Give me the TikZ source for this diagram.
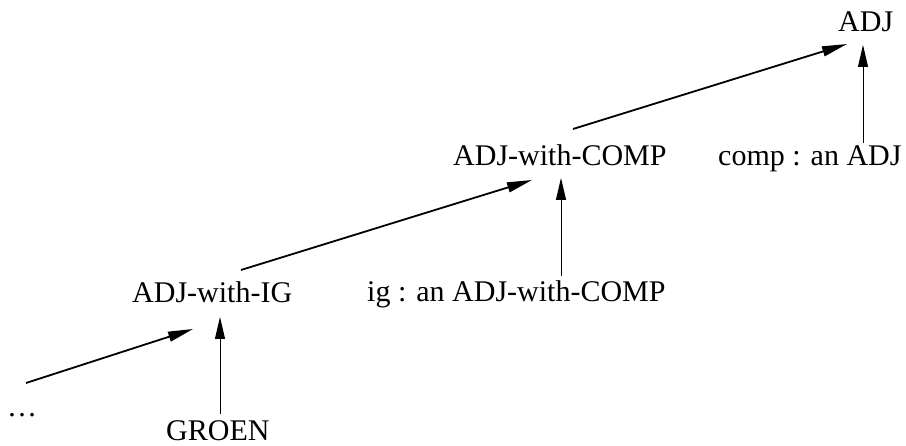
\documentclass[tikz,border=0pt]{standalone}
\usepackage{fontspec}
\setmainfont{Liberation Serif}
\usetikzlibrary{arrows.meta}
\begin{document}
\begin{tikzpicture}[x=1pt,y=-1pt,
  lbl/.style={anchor=base west,inner sep=0pt,font=\fontsize{30}{36}\selectfont},
  isa/.style={-{Triangle[length=25pt,width=10pt]},line width=1.8pt},
  part/.style={-{Triangle[length=22pt,width=10pt]},line width=1pt}]
\useasboundingbox (0,0) rectangle (906,446);
\node[lbl] (adj) at (838,32) {ADJ};
\node[lbl] (adjcomp) at (453,166) {ADJ-with-COMP};
\node[lbl] (comp) at (718,166) {comp : an ADJ};
\node[lbl] (adjig) at (132,303) {ADJ-with-IG};
\node[lbl] (ig) at (367,302) {ig : an ADJ-with-COMP};
\node[lbl] (dots) at (7,417) {…};
\node[lbl] (groen) at (166,441) {GROEN};
% connector end points
\coordinate (dotsS) at (26,383);
\coordinate (adjigE) at (193,329);
\coordinate (groenS) at (220,414);
\coordinate (adjigB) at (220,317);
\coordinate (adjigS) at (241,270);
\coordinate (adjcompE) at (532,180);
\coordinate (igS) at (561,276);
\coordinate (adjcompB) at (561,178);
\coordinate (adjcompS) at (573,129);
\coordinate (adjE) at (847,44);
\coordinate (compS) at (863,143);
\coordinate (adjB) at (863,45);
\draw[isa] (dotsS) -- (adjigE);
\draw[part] (groenS) -- (adjigB);
\draw[isa] (adjigS) -- (adjcompE);
\draw[part] (igS) -- (adjcompB);
\draw[isa] (adjcompS) -- (adjE);
\draw[part] (compS) -- (adjB);
\end{tikzpicture}
\end{document}
